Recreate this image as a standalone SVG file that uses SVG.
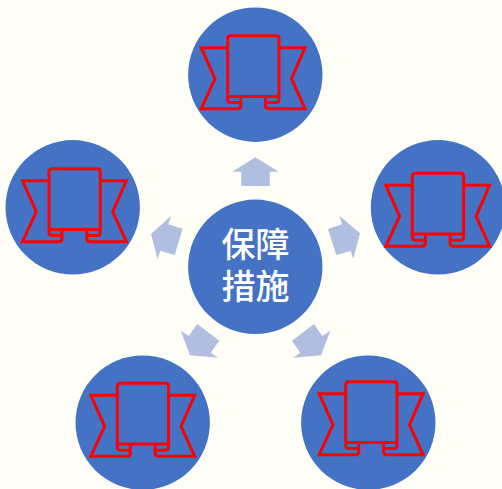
<svg xmlns="http://www.w3.org/2000/svg" width="502" height="489" viewBox="0 0 502 489">
<style>
.c{fill:#4472C4}
.a{fill:#B0BEDF}
.r{fill:none;stroke:#FF0000;stroke-width:3;stroke-linejoin:miter}
.t{fill:#fff;font-family:"Noto Sans CJK SC","Liberation Sans",sans-serif;font-size:34px;font-weight:500;text-anchor:middle}
</style>
<defs>
<g id="ribbon" class="r">
<path d="M227.7 47.7H201.2L215 78.7L201.2 108.7H237.5Q240.7 108.7 240.7 105.5V96.8"/>
<path d="M279 47.7H305L291.5 78.7L305 108.7H269Q265.5 108.7 265.5 105.5V96.8"/>
<path d="M240.7 102.6H231Q227.7 102.6 227.7 99.5V38.7Q227.7 35.7 230.7 35.7H276Q279 35.7 279 38.7V99.5Q279 102.6 276 102.6H265.5"/>
<path d="M227.7 96.4H279"/>
</g>
</defs>
<rect width="502" height="489" fill="#FFFFF8"/>
<g id="connectors">
<polygon class="a" points="255.3,157.3 278.7,171.7 269.7,171.7 269.7,186 241.3,186 241.3,171.7 232.3,171.7"/>
<polygon class="a" points="339.3,215.7 360,233.3 353.3,259 350.7,251 336.3,255 328,229 342,224.3"/>
<polygon class="a" points="330.3,330.7 321,355.3 293,357.7 300.3,352.7 292,340.7 314,324 322.3,336"/>
<polygon class="a" points="180.7,330.7 190,355.3 218,357.7 210.7,352.7 219.3,340.7 197.3,324 188.7,336"/>
<polygon class="a" points="171,216 168.3,224.3 182.7,228.7 174.7,255 160.3,250.7 157.7,259.3 151,234"/>
</g>
<g id="node-center">
<circle class="c" cx="255.3" cy="266.8" r="67.2"/>
<text class="t"><tspan x="255.5" y="257">保障</tspan><tspan x="255.5" y="298.5">措施</tspan></text>
</g>
<g id="node-top"><circle class="c" cx="255.3" cy="74.7" r="67.2"/><use href="#ribbon"/></g>
<g id="node-right"><circle class="c" cx="438" cy="207.3" r="67.2"/><use href="#ribbon" x="184.6" y="137.6"/></g>
<g id="node-bottom-right"><circle class="c" cx="368.3" cy="422.7" r="67.2"/><use href="#ribbon" x="118" y="346"/></g>
<g id="node-bottom-left"><circle class="c" cx="142.7" cy="422.7" r="67.2"/><use href="#ribbon" x="-110.4" y="347.6"/></g>
<g id="node-left"><circle class="c" cx="72.7" cy="207.3" r="67.2"/><use href="#ribbon" x="-178.7" y="133"/></g>
</svg>
